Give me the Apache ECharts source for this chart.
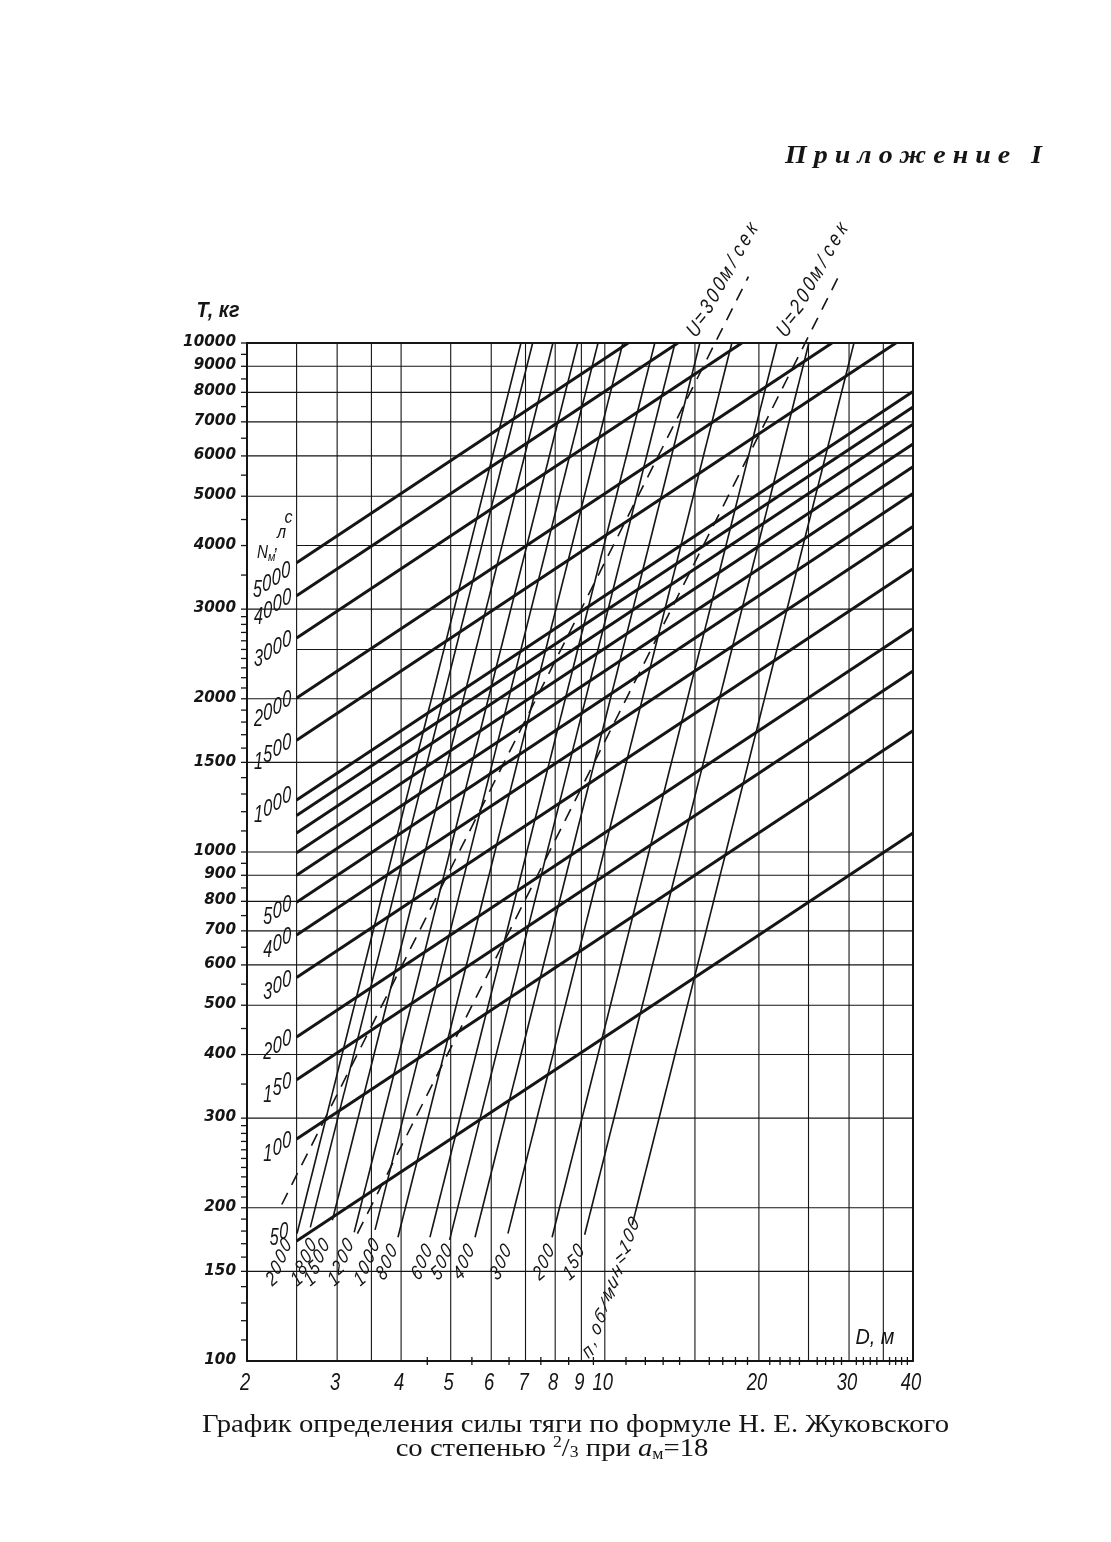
<!DOCTYPE html>
<html><head><meta charset="utf-8">
<script src="https://cdn.jsdelivr.net/npm/echarts@6/dist/echarts.min.js"></script>
<style>html,body{margin:0;padding:0;background:#fff;}#c{width:1111px;height:1542px;}</style>
</head><body><div id="c"></div>
<script>
// ---------------- data ----------------
const xTickValues = [2, 3, 4, 5, 6, 7, 8, 9, 10, 20, 30, 40];
const xTickLabels = ['2', '3', '4', '5', '6', '7', '8', '9', '10', '20', '30', '40'];
const yTickValues = [100, 150, 200, 300, 400, 500, 600, 700, 800, 900, 1000, 1500, 2000, 3000, 4000, 5000, 6000, 7000, 8000, 9000, 10000];
const yTickLabels = ['100', '150', '200', '300', '400', '500', '600', '700', '800', '900', '1000', '1500', '2000', '3000', '4000', '5000', '6000', '7000', '8000', '9000', '10000'];
const xGridValues = [2.5, 3, 3.5, 4, 5, 6, 7, 8, 9, 10, 15, 20, 25, 30, 35];
const yGridValues = [150, 200, 300, 400, 500, 600, 700, 800, 900, 1000, 1500, 2000, 2500, 3000, 4000, 5000, 6000, 7000, 8000, 9000];
const yGridFromD = [2, 2, 2, 2, 2, 2, 2, 2, 2, 2, 2, 2, 2.5, 2, 2.5, 2, 2, 2, 2, 2];
const xMinorTicks = [4.5, 5.5, 6.5, 7.5, 8.5, 9.5, 11, 12, 13, 14, 16, 17, 18, 19, 21, 22, 23, 24, 26, 27, 28, 29, 31, 32, 33, 34, 36, 37, 38, 39];
const yMinorTicks = [110, 120, 130, 140, 150, 160, 170, 180, 190, 200, 210, 220, 230, 240, 250, 260, 270, 280, 290, 300, 350, 400, 450, 500, 550, 600, 650, 700, 750, 800, 850, 900, 950, 1000, 1100, 1200, 1300, 1400, 1500, 1600, 1700, 1800, 1900, 2000, 2100, 2200, 2300, 2400, 2500, 2600, 2700, 2800, 2900, 3000, 3500, 4000, 4500, 5000, 5500, 6000, 6500, 7000, 7500, 8000, 8500, 9000, 9500, 10000];

// engine power lines N_м, л.с. (thick)
const powerN      = [5000, 4000, 3000, 2000, 1500, 1000, 900, 800, 700, 600, 500, 400, 300, 200, 150, 100, 50];
const powerStartD = [2.5, 2.5, 2.5, 2.5, 2.5, 2.5, 2.5, 2.5, 2.5, 2.5, 2.5, 2.5, 2.5, 2.5, 2.5, 2.5, 2.5];
const powerStartT = [3699, 3188, 2632, 2008, 1658, 1265, 1179, 1090, 997, 900, 797, 687, 567, 433, 357, 273, 172];
const powerEndD   = [11.11, 13.89, 18.52, 27.78, 37.04, 40, 40, 40, 40, 40, 40, 40, 40, 40, 40, 40, 40];
const powerEndT   = [10000, 10000, 10000, 10000, 10000, 8034, 7489, 6923, 6333, 5715, 5061, 4361, 3600, 2748, 2268, 1730, 1090];
const powerLabels = [5000, 4000, 3000, 2000, 1500, 1000, 500, 400, 300, 200, 150, 100, 50];

// revolutions lines n, об/мин (thin, steep)
const rpmN      = [2000, 1800, 1500, 1200, 1000, 800, 600, 500, 400, 300, 200, 150, 100];
const rpmStartD = [2.505, 2.659, 2.936, 3.239, 3.558, 3.944, 4.554, 4.975, 5.578, 6.468, 7.888, 9.134, 11.31];
const rpmStartT = [178, 183, 189, 179, 181, 175, 175, 173, 175, 178, 175, 177, 185];
const rpmEndD   = [6.858, 7.229, 7.919, 8.854, 9.699, 10.845, 12.522, 13.716, 15.335, 17.707, 21.687, 25.04, 30.67];
const rpmEndT   = [10000, 10000, 10000, 10000, 10000, 10000, 10000, 10000, 10000, 10000, 10000, 10000, 10000];
const rpmLabels = ['2000', '1800', '1500', '1200', '1000', '800', '600', '500', '400', '300', '200', '150', 'п,об/мин=100'];

// tip-speed lines U, м/сек (dashed)
const tipU      = [300, 200];
const tipStartD = [2.339, 3.286];
const tipStartT = [203, 178];
const tipEndD   = [19.08, 28.61];
const tipEndT   = [13500, 13500];
const tipLabels = ['U=300м/сек', 'U=200м/сек'];

// ---------------- layout / style (not data) ----------------
const INK = '#151515';
const rpmLabelD = [2.309, 2.584, 2.739, 3.052, 3.431, 3.753, 4.392, 4.806, 5.305, 6.269, 7.604, 8.703, 10.28];
const rpmLabelT = [156, 156, 156, 156, 156, 156, 156, 156, 156, 156, 156, 156, 139];
const powerLabelOffset = { '5000': [-11, 9], '1000': [-10, -3], '50': [-13, -9] };

const cv = document.createElement('canvas').getContext('2d');
function measure(t, font) { cv.font = font; return cv.measureText(t).width; }

function charEl(ch, x, y, rot, font, sx) {
  return { type: 'text', x: x, y: y, rotation: rot, scaleX: sx,
    style: { text: ch, x: 0, y: 0, align: 'center', verticalAlign: 'middle', font: font, fill: INK } };
}

function segSeries(rows, style, z) {
  return {
    type: 'custom', coordinateSystem: 'cartesian2d', clip: false, silent: true, z: z,
    encode: { x: [0, 2], y: [1, 3] }, data: rows,
    renderItem: function (params, api) {
      const p1 = api.coord([api.value(0), api.value(1)]);
      const p2 = api.coord([api.value(2), api.value(3)]);
      return { type: 'line', shape: { x1: p1[0], y1: p1[1], x2: p2[0], y2: p2[1] },
        style: Object.assign({ stroke: INK, lineWidth: 1, fill: null }, style) };
    }
  };
}

function pointSeries(rows, render, z) {
  return { type: 'custom', coordinateSystem: 'cartesian2d', clip: false, silent: true, z: z || 5,
    encode: { x: 0, y: 1 }, data: rows,
    renderItem: function (params, api) {
      const p = api.coord([api.value(0), api.value(1)]);
      return render(p, params.dataIndex);
    } };
}

function lerpLogD(d1, t1, d2, t2, t) {
  const f = (Math.log(t) - Math.log(t1)) / (Math.log(t2) - Math.log(t1));
  return Math.exp(Math.log(d1) + f * (Math.log(d2) - Math.log(d1)));
}

const series = [];
// grid lines
series.push(segSeries(xGridValues.map(d => [d, 100, d, 10000]), { lineWidth: 1.1 }, 1));
series.push(segSeries(yGridValues.map((t, i) => [yGridFromD[i], t, 40, t]), { lineWidth: 1.1 }, 1));
// ticks
series.push(pointSeries(yMinorTicks.map(t => [2, t]), p => ({ type: 'line', shape: { x1: p[0] - 6, y1: p[1], x2: p[0] + 1, y2: p[1] }, style: { stroke: INK, lineWidth: 1.3 } }), 2));
series.push(pointSeries(xMinorTicks.map(d => [d, 100]), p => ({ type: 'line', shape: { x1: p[0], y1: p[1] - 4, x2: p[0], y2: p[1] + 4 }, style: { stroke: INK, lineWidth: 1.3 } }), 2));
// rpm lines
series.push(segSeries(rpmN.map((n, i) => [rpmStartD[i], rpmStartT[i], rpmEndD[i], rpmEndT[i]]), { lineWidth: 1.6 }, 3));
// tip speed dashed
series.push(segSeries(tipU.map((u, i) => [tipStartD[i], tipStartT[i], tipEndD[i], tipEndT[i]]), { lineWidth: 1.6, lineDash: [13, 9] }, 3));
// power lines
series.push(segSeries(powerN.map((n, i) => [powerStartD[i], powerStartT[i], powerEndD[i], powerEndT[i]]), { lineWidth: 3 }, 4));

// y labels
series.push(pointSeries(yTickValues.map(t => [2, t]), (p, i) => ({ type: 'text', x: p[0] - 11, y: p[1] - 1, scaleX: 0.95,
  style: { text: yTickLabels[i], x: 0, y: 0, align: 'right', verticalAlign: 'middle', font: 'italic bold 16px "DejaVu Sans"', fill: INK } })));
// x labels
series.push(pointSeries(xTickValues.map(d => [d, 100]), (p, i) => ({ type: 'text', x: p[0] - 2, y: p[1] + 23, scaleX: 0.8,
  style: { text: xTickLabels[i], x: 0, y: 0, align: 'center', verticalAlign: 'middle', font: 'italic 23px "Liberation Sans"', fill: INK } })));

// power labels (upright draftsman lettering stepping along the line)
const NFONT = 'italic 23px "Liberation Sans"';
series.push(pointSeries(powerLabels.map(v => { const i = powerN.indexOf(v); return [powerStartD[i], powerStartT[i]]; }), (p, idx) => {
  const txt = String(powerLabels[idx]);
  const off = powerLabelOffset[txt] || [-10, 3];
  const lx = p[0] + off[0], ly = p[1] + off[1];
  const ch = [];
  for (let k = 0; k < txt.length; k++) {
    const b = txt.length - 1 - k;
    ch.push(charEl(txt[k], lx - b * 9.4, ly + b * 6.3, 0, NFONT, 0.7));
  }
  if (txt === '5000') {
    ch.push(charEl('N', p[0] - 34, p[1] - 10, 0, 'italic 19px "Liberation Sans"', 0.8));
    ch.push(charEl('м', p[0] - 25, p[1] - 5, 0, 'italic 12px "Liberation Sans"', 0.9));
    ch.push(charEl(',', p[0] - 20, p[1] - 18, 0, 'italic 18px "Liberation Sans"', 0.9));
    ch.push(charEl('л', p[0] - 15, p[1] - 30, 0, 'italic 19px "Liberation Sans"', 0.85));
    ch.push(charEl('с', p[0] - 8, p[1] - 45, 0, 'italic 19px "Liberation Sans"', 0.85));
  }
  return { type: 'group', children: ch };
}, 6));

// rpm labels (stacked, tilted lettering)
const RFONT = 'italic 20px "Liberation Sans"';
series.push(pointSeries(rpmLabelD.map((d, i) => [d, rpmLabelT[i]]), (p, idx) => {
  const txt = rpmLabels[idx];
  const step = txt.length > 5 ? [4.1, -11.6] : [4.6, -11.3];
  const rot = 40 * Math.PI / 180;
  const n = txt.length, ch = [];
  for (let k = 0; k < n; k++) {
    const f = k - (n - 1) / 2;
    ch.push(charEl(txt[k], p[0] + f * step[0], p[1] + f * step[1], rot, RFONT, 0.8));
  }
  return { type: 'group', children: ch };
}, 6));

// tip speed labels above the frame
series.push(pointSeries(tipU.map((u, i) => [lerpLogD(tipStartD[i], tipStartT[i], tipEndD[i], tipEndT[i], 13350), 13350]), (p, idx) => {
  const txt = tipLabels[idx];
  const step = [6.3, -11.3];
  const rot = 50 * Math.PI / 180;
  const n = txt.length, ch = [];
  const cx = p[0] - 24, cy = p[1];
  for (let k = 0; k < n; k++) {
    const f = k - (n - 1) / 2;
    ch.push(charEl(txt[k], cx + f * step[0], cy + f * step[1], rot, 'italic 21px "Liberation Sans"', 0.8));
  }
  return { type: 'group', children: ch };
}, 6));

// ---------------- free text ----------------
const graphic = [];
const titleFont = 'italic bold 26px "Liberation Serif"';
const titleTxt = 'П р и л о ж е н и е   I';
graphic.push({ type: 'text', x: 785, y: 156, scaleX: 257 / measure(titleTxt, titleFont),
  style: { text: titleTxt, x: 0, y: 0, align: 'left', verticalAlign: 'middle', font: titleFont, fill: INK } });
graphic.push({ type: 'text', x: 218, y: 311, scaleX: 0.9,
  style: { text: 'Т, кг', x: 0, y: 0, align: 'center', verticalAlign: 'middle', font: 'italic bold 22px "Liberation Sans"', fill: INK } });
graphic.push({ type: 'text', x: 875, y: 1338, scaleX: 0.9,
  style: { text: 'D, м', x: 0, y: 0, align: 'center', verticalAlign: 'middle', font: 'italic 22px "Liberation Sans"', fill: INK } });

const capFont = '26px "Liberation Serif"';
const capSmall = '16px "Liberation Serif"';
const cap1 = 'График определения силы тяги по формуле Н. Е. Жуковского';
const capScale = 747 / measure(cap1, capFont);
graphic.push({ type: 'text', x: 202, y: 1425, scaleX: capScale,
  style: { text: cap1, x: 0, y: 0, align: 'left', verticalAlign: 'middle', font: capFont, fill: INK } });
const cap2 = [
  { t: 'со степенью ', f: capFont, dy: 0 },
  { t: '2', f: capSmall, dy: -6 },
  { t: '/', f: capFont, dy: 0 },
  { t: '3', f: capSmall, dy: 4 },
  { t: ' при ', f: capFont, dy: 0 },
  { t: 'a', f: 'italic 26px "Liberation Serif"', dy: 0 },
  { t: 'м', f: capSmall, dy: 6 },
  { t: '=18', f: capFont, dy: 0 }
];
let w2 = 0; cap2.forEach(c => { c.w = measure(c.t, c.f) * capScale; w2 += c.w; });
let cx2 = 552 - w2 / 2;
cap2.forEach(c => {
  graphic.push({ type: 'text', x: cx2, y: 1449 + c.dy, scaleX: capScale,
    style: { text: c.t, x: 0, y: 0, align: 'left', verticalAlign: 'middle', font: c.f, fill: INK } });
  cx2 += c.w;
});

const chart = echarts.init(document.getElementById('c'), null, { renderer: 'canvas' });
chart.setOption({
  animation: false,
  backgroundColor: '#ffffff',
  grid: { left: 247, top: 343, width: 666, height: 1018, show: true, borderColor: INK, borderWidth: 2, backgroundColor: 'transparent' },
  xAxis: { type: 'log', logBase: 10, min: 2, max: 40, axisLine: { show: false }, axisTick: { show: false }, axisLabel: { show: false }, splitLine: { show: false } },
  yAxis: { type: 'log', logBase: 10, min: 100, max: 10000, axisLine: { show: false }, axisTick: { show: false }, axisLabel: { show: false }, splitLine: { show: false } },
  series: series,
  graphic: graphic
});
</script></body></html>
